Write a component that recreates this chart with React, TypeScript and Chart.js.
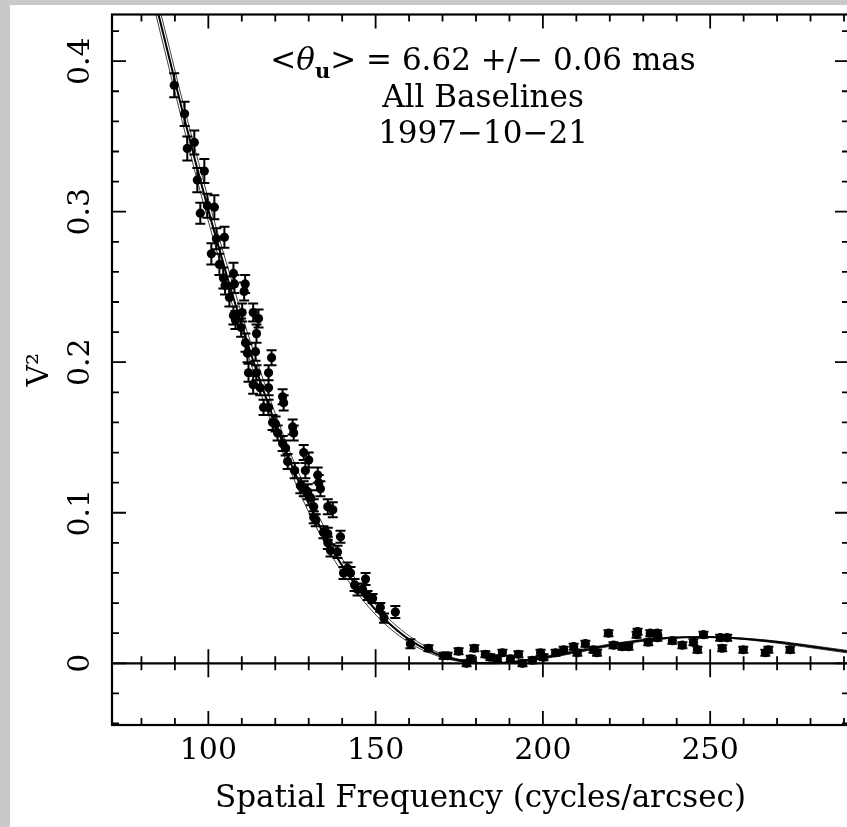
import React, { useEffect, useRef } from "react";
import { Chart, registerables } from "chart.js";

Chart.register(...registerables);

// Measured squared visibilities (spatial frequency in cycles/arcsec)
const FREQ = [
  89.8, 92.9, 93.7, 95.8, 96.7, 97.6, 98.8, 99.7, 100.9, 101.8,
  102.4, 103.3, 104.5, 104.8, 105.0, 106.3, 107.5, 107.5, 107.8, 108.1,
  109.8, 110.1, 110.7, 111.0, 111.1, 111.7, 112.0, 113.4, 113.4, 114.1,
  114.4, 114.4, 115.0, 115.5, 116.5, 118.0, 118.0, 118.0, 118.9, 119.2,
  120.1, 120.7, 122.2, 122.5, 122.2, 123.1, 123.7, 125.2, 125.5, 125.8,
  127.5, 128.5, 128.5, 129.0, 129.7, 130.0, 130.6, 131.5, 131.5, 132.1,
  132.7, 133.0, 133.5, 134.4, 135.7, 135.7, 135.7, 136.5, 137.2, 138.6,
  139.5, 140.4, 141.6, 142.5, 143.7, 144.6, 146.1, 147.0, 147.6, 149.1,
  151.4, 152.5, 155.9, 160.4, 165.8, 170.3, 171.5, 174.8, 177.2, 178.4,
  179.5, 182.8, 184.3, 186.4, 187.9, 190.3, 192.7, 193.9, 196.9, 199.3,
  200.2, 203.8, 206.2, 209.2, 210.3, 212.7, 215.1, 216.2, 219.6, 221.1,
  223.8, 225.6, 228.0, 228.3, 231.5, 232.1, 234.2, 234.2, 238.7, 241.7,
  245.0, 246.2, 248.0, 253.0, 253.6, 255.1, 259.9, 266.5, 267.4, 273.9,
];
const VIS2 = [
  0.384, 0.365, 0.342, 0.346, 0.321, 0.299, 0.327, 0.304, 0.272, 0.303,
  0.282, 0.265, 0.256, 0.283, 0.251, 0.243, 0.259, 0.231, 0.252, 0.228,
  0.223, 0.233, 0.247, 0.252, 0.213, 0.206, 0.193, 0.233, 0.185, 0.207,
  0.219, 0.193, 0.229, 0.183, 0.170, 0.193, 0.183, 0.170, 0.203, 0.160,
  0.159, 0.153, 0.177, 0.173, 0.146, 0.143, 0.134, 0.157, 0.153, 0.128,
  0.118, 0.140, 0.116, 0.128, 0.114, 0.135, 0.110, 0.104, 0.097, 0.095,
  0.125, 0.120, 0.116, 0.087, 0.104, 0.086, 0.080, 0.075, 0.102, 0.074,
  0.084, 0.060, 0.063, 0.060, 0.052, 0.049, 0.049, 0.056, 0.045, 0.043,
  0.037, 0.030, 0.034, 0.013, 0.010, 0.005, 0.005, 0.008, 0.000, 0.003,
  0.010, 0.006, 0.004, 0.003, 0.007, 0.003, 0.006, 0.000, 0.002, 0.007,
  0.004, 0.007, 0.009, 0.011, 0.007, 0.013, 0.009, 0.007, 0.020, 0.012,
  0.011, 0.011, 0.019, 0.021, 0.014, 0.020, 0.020, 0.017, 0.015, 0.012,
  0.014, 0.009, 0.019, 0.017, 0.010, 0.017, 0.009, 0.007, 0.009, 0.009,
];
const VIS2_ERR = [
  0.008, 0.008, 0.008, 0.008, 0.008, 0.007, 0.008, 0.008, 0.007, 0.008,
  0.007, 0.007, 0.007, 0.007, 0.006, 0.006, 0.007, 0.006, 0.006, 0.006,
  0.006, 0.006, 0.006, 0.006, 0.006, 0.006, 0.006, 0.006, 0.006, 0.006,
  0.006, 0.005, 0.006, 0.005, 0.005, 0.005, 0.005, 0.005, 0.005, 0.005,
  0.005, 0.005, 0.005, 0.005, 0.005, 0.005, 0.005, 0.005, 0.005, 0.005,
  0.005, 0.005, 0.005, 0.005, 0.005, 0.005, 0.005, 0.005, 0.004, 0.004,
  0.005, 0.005, 0.005, 0.004, 0.005, 0.004, 0.004, 0.004, 0.005, 0.004,
  0.004, 0.004, 0.004, 0.004, 0.004, 0.004, 0.004, 0.004, 0.003, 0.003,
  0.003, 0.003, 0.004, 0.003, 0.002, 0.002, 0.002, 0.002, 0.002, 0.002,
  0.002, 0.002, 0.002, 0.002, 0.002, 0.002, 0.002, 0.002, 0.002, 0.002,
  0.002, 0.002, 0.002, 0.002, 0.002, 0.002, 0.002, 0.002, 0.002, 0.002,
  0.002, 0.002, 0.002, 0.002, 0.002, 0.002, 0.002, 0.002, 0.002, 0.002,
  0.002, 0.002, 0.002, 0.002, 0.002, 0.002, 0.002, 0.002, 0.002, 0.002,
];

// Fitted model curve and its +/- 1 sigma companions
const MODEL_FREQ = [
  76.9, 81.7, 86.6, 91.4, 96.2, 101.0, 105.8, 110.6, 115.4, 120.2,
  125.0, 129.8, 134.6, 139.4, 144.3, 149.1, 153.9, 158.7, 163.5, 168.3,
  173.1, 177.9, 182.7, 187.5, 192.3, 202.0, 211.6, 221.2, 230.8, 240.4,
  250.0, 259.7, 269.3, 278.9, 288.5, 298.1,
];
const MODEL_FREQ_HI = [
  77.6, 82.4, 87.4, 92.2, 97.1, 101.9, 106.8, 111.6, 116.5, 121.3,
  126.1, 131.0, 135.8, 140.7, 145.6, 150.5, 155.3, 160.2, 165.0, 169.8,
  174.7, 179.5, 184.4, 189.2, 194.1, 203.8, 213.5, 223.2, 232.9, 242.6,
  252.3, 262.1, 271.8, 281.4, 291.1, 300.8,
];
const MODEL_FREQ_LO = [
  76.2, 81.0, 85.8, 90.6, 95.3, 100.1, 104.9, 109.6, 114.4, 119.1,
  123.9, 128.6, 133.4, 138.1, 143.0, 147.8, 152.5, 157.3, 162.0, 166.8,
  171.5, 176.3, 181.1, 185.8, 190.6, 200.2, 209.7, 219.2, 228.7, 238.2,
  247.8, 257.4, 266.9, 276.4, 285.9, 295.4,
];
const MODEL_V2 = [
  0.5075, 0.4617, 0.4175, 0.3743, 0.3326, 0.2929, 0.2555, 0.2204, 0.1879, 0.1582,
  0.1312, 0.1070, 0.0856, 0.0670, 0.0511, 0.0377, 0.0267, 0.0179, 0.0111, 0.0062,
  0.0028, 0.00085, 0.00005, 0.00019, 0.00109, 0.00436, 0.0085, 0.01245, 0.01547, 0.01717,
  0.01742, 0.01636, 0.01426, 0.0115, 0.0085, 0.0056,
];

const X_MAJOR = [100, 150, 200, 250];
const X_TICK_LABELS = ["100", "150", "200", "250"];
const X_MINOR = [
  80, 90, 110, 120, 130, 140, 160, 170, 180, 190,
  210, 220, 230, 240, 260, 270, 280, 290,
];
const Y_MAJOR = [0, 0.1, 0.2, 0.3, 0.4];
const Y_TICK_LABELS = ["0", "0.1", "0.2", "0.3", "0.4"];
const Y_MINOR = [
  -0.04, -0.02, 0.02, 0.04, 0.06, 0.08, 0.12, 0.14, 0.16, 0.18,
  0.22, 0.24, 0.26, 0.28, 0.32, 0.34, 0.36, 0.38, 0.42,
];

const ANNOT_VALUE = "6.62";
const ANNOT_ERR = "0.06";
const ANNOT_LINE2 = "All Baselines";
const ANNOT_LINE3 = "1997\u221210\u221221";

const X_MIN = 71.2;
const X_MAX = 291.5;
const Y_MIN = -0.041;
const Y_MAX = 0.431;

const FONT = "'DejaVu Serif', serif";

const framePlugin = {
  id: "pgframe",
  beforeDraw(chart: any) {
    const { ctx, width, height } = chart;
    ctx.save();
    ctx.fillStyle = "#c9c9c9";
    ctx.fillRect(0, 0, width, height);
    ctx.fillStyle = "#ffffff";
    ctx.fillRect(10, 5, width - 10, height - 5);
    ctx.restore();
  },
  afterDatasetsDraw(chart: any) {
    const { ctx, chartArea, scales } = chart;
    const { left, right, top, bottom } = chartArea;
    const xs = scales.x;
    const ys = scales.y;
    ctx.save();
    ctx.strokeStyle = "#000";
    ctx.fillStyle = "#000";
    ctx.lineCap = "butt";

    // error bars
    ctx.lineWidth = 2;
    ctx.beginPath();
    for (let i = 0; i < FREQ.length; i++) {
      const px = xs.getPixelForValue(FREQ[i]);
      const pHi = ys.getPixelForValue(VIS2[i] + VIS2_ERR[i]);
      const pLo = ys.getPixelForValue(VIS2[i] - VIS2_ERR[i]);
      ctx.moveTo(px, pHi);
      ctx.lineTo(px, pLo);
      ctx.moveTo(px - 5, pHi);
      ctx.lineTo(px + 5, pHi);
      ctx.moveTo(px - 5, pLo);
      ctx.lineTo(px + 5, pLo);
    }
    ctx.stroke();

    const seg = (x1: number, y1: number, x2: number, y2: number) => {
      ctx.moveTo(x1, y1);
      ctx.lineTo(x2, y2);
    };

    // frame + zero line
    ctx.lineWidth = 2.2;
    ctx.strokeRect(left, top, right - left, bottom - top);
    const y0 = ys.getPixelForValue(0);
    ctx.beginPath();
    seg(left, y0, right, y0);
    ctx.stroke();

    // ticks
    ctx.lineWidth = 1.8;
    ctx.beginPath();
    X_MAJOR.forEach((v) => {
      const p = xs.getPixelForValue(v);
      seg(p, bottom, p, bottom - 14);
      seg(p, top, p, top + 14);
      seg(p, y0 - 14, p, y0 + 14);
    });
    X_MINOR.forEach((v) => {
      const p = xs.getPixelForValue(v);
      seg(p, bottom, p, bottom - 7);
      seg(p, top, p, top + 7);
      seg(p, y0 - 7, p, y0 + 7);
    });
    Y_MAJOR.forEach((v) => {
      const p = ys.getPixelForValue(v);
      seg(left, p, left + 14, p);
      seg(right, p, right - 14, p);
    });
    Y_MINOR.forEach((v) => {
      const p = ys.getPixelForValue(v);
      seg(left, p, left + 7, p);
      seg(right, p, right - 7, p);
    });
    ctx.stroke();

    // annotations
    const cx = 483;
    ctx.textBaseline = "alphabetic";
    ctx.textAlign = "left";
    const fMain = "31px " + FONT;
    const fItal = "italic 31px " + FONT;
    const fSub = "bold 21px " + FONT;
    const parts: [string, string, number][] = [
      ["<", fMain, 0],
      ["\u03B8", fItal, 0],
      ["u", fSub, 8],
      [">", fMain, 0],
      [" = " + ANNOT_VALUE + " +/\u2212 " + ANNOT_ERR + " mas", fMain, 0],
    ];
    let total = 0;
    const widths = parts.map(([t, f]) => {
      ctx.font = f;
      const w = ctx.measureText(t).width;
      total += w;
      return w;
    });
    let xPos = cx - total / 2;
    const base1 = 70;
    parts.forEach(([t, f, dy], i) => {
      ctx.font = f;
      ctx.fillText(t, xPos, base1 + dy);
      xPos += widths[i];
    });
    ctx.font = fMain;
    ctx.textAlign = "center";
    ctx.fillText(ANNOT_LINE2, cx, 106.5);
    ctx.fillText(ANNOT_LINE3, cx, 143);
    ctx.restore();
  },
};

export default function App() {
  const canvasRef = useRef<HTMLCanvasElement | null>(null);

  useEffect(() => {
    const canvas = canvasRef.current;
    if (!canvas) return;
    const points = FREQ.map((f, i) => ({ x: f, y: VIS2[i] }));
    const model = MODEL_FREQ.map((f, i) => ({ x: f, y: MODEL_V2[i] }));
    const modelHi = MODEL_FREQ_HI.map((f, i) => ({ x: f, y: MODEL_V2[i] }));
    const modelLo = MODEL_FREQ_LO.map((f, i) => ({ x: f, y: MODEL_V2[i] }));

    const chart = new Chart(canvas, {
      type: "scatter",
      data: {
        datasets: [
          {
            label: "V2",
            data: points,
            pointRadius: 4.6,
            pointBorderWidth: 0,
            pointBackgroundColor: "#000",
            pointBorderColor: "#000",
            showLine: false,
          },
          {
            label: "model",
            data: model,
            showLine: true,
            pointRadius: 0,
            borderColor: "#000",
            borderWidth: 2,
            cubicInterpolationMode: "monotone",
          },
          {
            label: "model+",
            data: modelHi,
            showLine: true,
            pointRadius: 0,
            borderColor: "rgba(0,0,0,0.75)",
            borderWidth: 1,
            cubicInterpolationMode: "monotone",
          },
          {
            label: "model-",
            data: modelLo,
            showLine: true,
            pointRadius: 0,
            borderColor: "rgba(0,0,0,0.75)",
            borderWidth: 1,
            cubicInterpolationMode: "monotone",
          },
        ],
      },
      options: {
        animation: false,
        responsive: false,
        devicePixelRatio: 1,
        layout: { padding: { left: 0, top: 14.5, right: 11, bottom: 0 } },
        plugins: {
          legend: { display: false },
          tooltip: { enabled: false },
        },
        scales: {
          x: {
            type: "linear",
            min: X_MIN,
            max: X_MAX,
            grid: { display: false, drawTicks: false },
            border: { display: false },
            afterBuildTicks: (s: any) => {
              s.ticks = X_MAJOR.map((v) => ({ value: v }));
            },
            afterFit: (s: any) => {
              s.height = 102;
              s.paddingLeft = 0;
              s.paddingRight = 0;
            },
            ticks: {
              autoSkip: false,
              maxRotation: 0,
              minRotation: 0,
              padding: 8,
              color: "#000",
              font: { family: FONT, size: 30 },
              callback: (_v: any, i: number) => X_TICK_LABELS[i],
            },
            title: {
              display: true,
              text: "Spatial Frequency (cycles/arcsec)",
              color: "#000",
              font: { family: FONT, size: 31 },
              padding: { top: 0, bottom: 9 },
            },
          },
          y: {
            type: "linear",
            min: Y_MIN,
            max: Y_MAX,
            grid: { display: false, drawTicks: false },
            border: { display: false },
            afterBuildTicks: (s: any) => {
              s.ticks = Y_MAJOR.map((v) => ({ value: v }));
            },
            afterFit: (s: any) => {
              s.width = 112;
              s.paddingTop = 0;
              s.paddingBottom = 0;
            },
            ticks: {
              autoSkip: false,
              minRotation: 90,
              maxRotation: 90,
              crossAlign: "center",
              padding: 7,
              color: "#000",
              font: { family: FONT, size: 30 },
              callback: (_v: any, i: number) => Y_TICK_LABELS[i],
            },
            title: {
              display: true,
              text: "V\u00B2",
              color: "#000",
              font: { family: FONT, size: 30 },
              padding: { top: 22, bottom: 0 },
            },
          },
        },
      } as any,
      plugins: [framePlugin],
    });
    return () => chart.destroy();
  }, []);

  return (
    <div
      style={{
        position: "absolute",
        left: 0,
        top: 0,
        width: 847,
        height: 827,
        overflow: "hidden",
        background: "#c9c9c9",
      }}
    >
      <canvas
        ref={canvasRef}
        width={860}
        height={827}
        style={{ display: "block", width: 860, height: 827 }}
      />
    </div>
  );
}
